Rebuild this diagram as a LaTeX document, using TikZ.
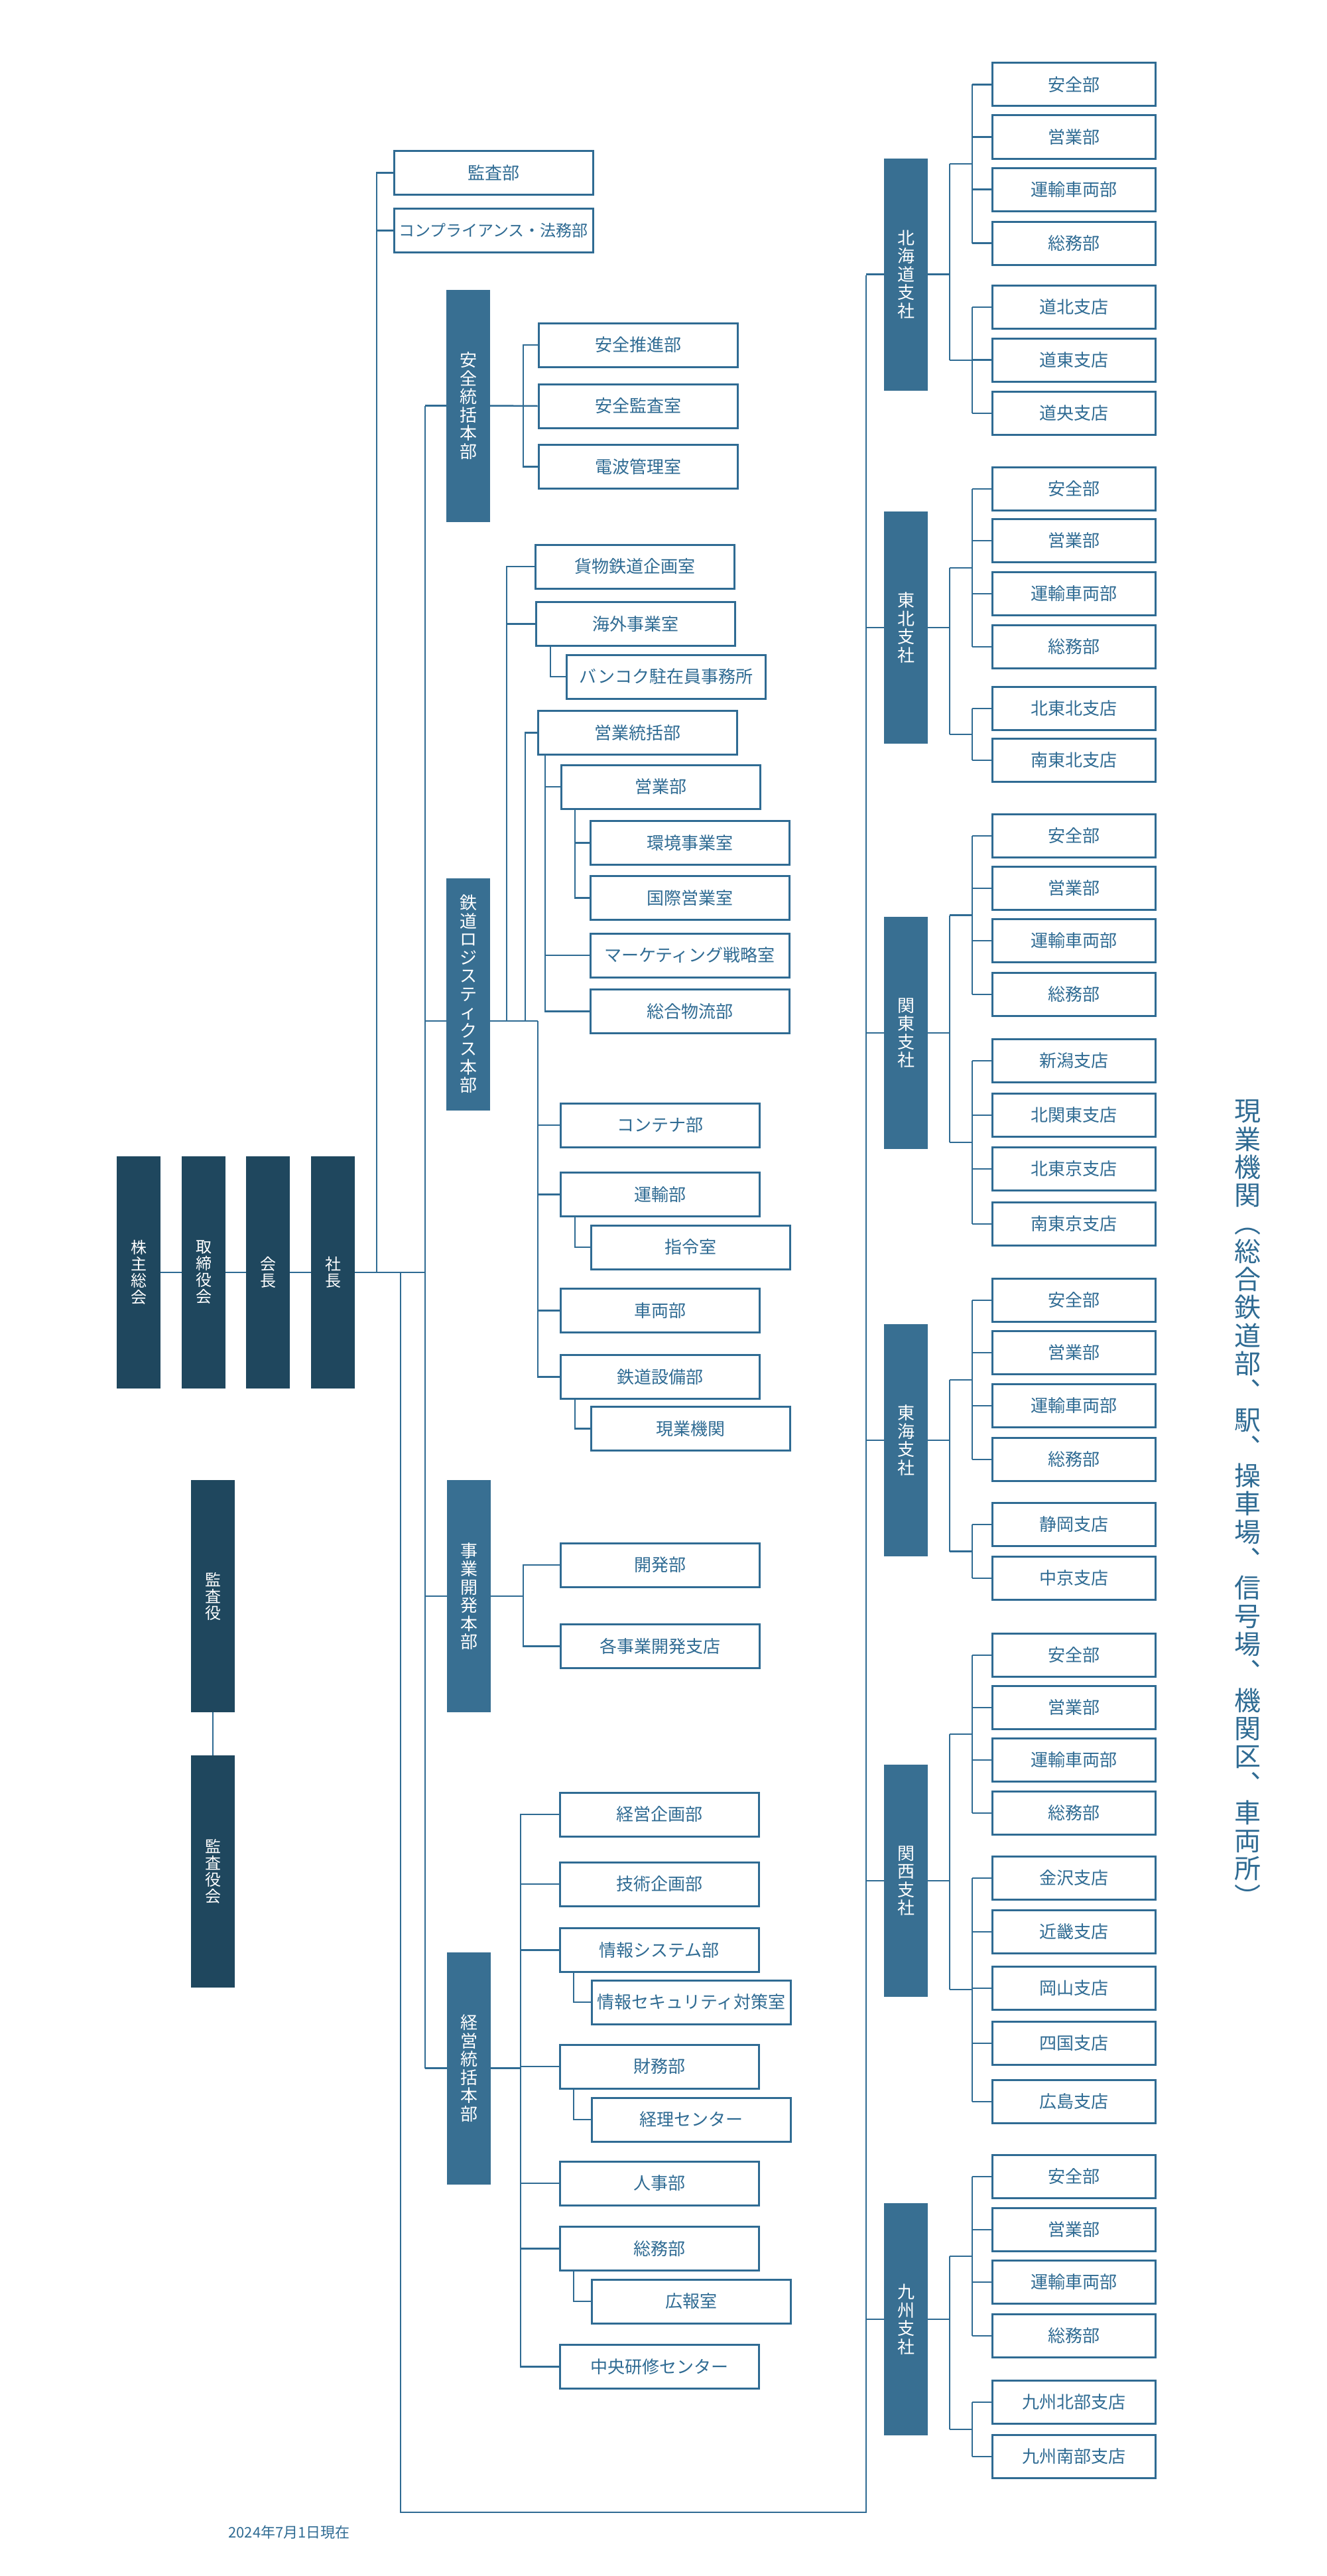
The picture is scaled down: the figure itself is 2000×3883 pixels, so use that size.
\documentclass[tikz,border=0pt]{standalone}
\usepackage{fontspec}
\setmainfont{Noto Sans CJK JP}
\definecolor{lc}{HTML}{2F6B93}
\definecolor{mid}{HTML}{386F92}
\definecolor{dk}{HTML}{1F475E}
\newcommand\fs[1]{\fontsize{#1}{#1}\selectfont}
\begin{document}
\begin{tikzpicture}[x=1pt,y=-1pt,
  ln/.style={draw=lc,line width=2.5pt},
  box/.style={draw=lc,line width=3pt,fill=white,text=lc,inner sep=0pt,font=\fs{26}},
  mb/.style={box,minimum width=300pt,minimum height=66pt},
  rb/.style={box,minimum width=246pt,minimum height=65pt},
  hqb/.style={fill=mid,text=white,inner sep=0pt,minimum width=66pt,minimum height=350pt,align=center,font=\fontsize{26}{27.5}\selectfont},
  topb/.style={fill=dk,text=white,inner sep=0pt,minimum width=66pt,minimum height=350pt,align=center,font=\fontsize{24}{25}\selectfont}]
\useasboundingbox (0,0) rectangle (2000,3883);

% top level
\node[topb] (kabu) at (209,1918) {株\\主\\総\\会};
\node[topb] (tori) at (307,1918) {取\\締\\役\\会};
\node[topb] (kaicho) at (404,1918) {会\\長};
\node[topb] (shacho) at (502,1918) {社\\長};
\node[topb] (kansayaku) at (321,2406) {監\\査\\役};
\node[topb] (kansakai) at (321,2821) {監\\査\\役\\会};
\draw[ln] (kabu) -- (tori); \draw[ln] (tori) -- (kaicho); \draw[ln] (kaicho) -- (shacho);
\draw[ln] (kansayaku) -- (kansakai);

% bus coordinates
\coordinate (j1) at (568,1918);
\coordinate (j2) at (604,1918);
\coordinate (j3) at (641,1918);
\draw[ln] (shacho.east) -- (j3);

% staff
\node[mb] (kansabu) at (744,260.5) {監査部};
\node[mb,font=\fs{24}] (compl) at (744,347.5) {コンプライアンス・法務部};
\coordinate (jtop) at (568,260.5);
\draw[ln] (j1) -- (jtop) -- (kansabu.west);
\draw[ln] (compl.west) -- (compl.west -| j1);

% HQs
\node[hqb] (anzen) at (706,611.5) {安\\全\\統\\括\\本\\部};
\node[hqb] (logi) at (706,1498.5) {鉄\\道\\ロ\\ジ\\ス\\テ\\ィ\\ク\\ス\\本\\部};
\node[hqb] (jigyo) at (707,2406) {事\\業\\開\\発\\本\\部};
\node[hqb] (keiei) at (707,3117.5) {経\\営\\統\\括\\本\\部};
\coordinate (hqtop) at (641,611.5);
\coordinate (hqbot) at (641,3117.5);
\coordinate (logiin) at (641,1539);
\draw[ln] (hqtop) -- (hqbot);
\draw[ln] (hqtop) -- (anzen.west);
\draw[ln] (logiin) -- (logiin -| logi.west);
\draw[ln] (jigyo.west) -- (jigyo.west -| hqtop);
\draw[ln] (hqbot) -- (keiei.west);

% safety HQ
\node[mb] (a1) at (962,520) {安全推進部};
\node[mb] (a2) at (962,612) {安全監査室};
\node[mb] (a3) at (962,703.5) {電波管理室};
\coordinate (ab1) at (789,520); \coordinate (ab3) at (789,703.5);
\draw[ln] (anzen.east) -- (a2.west);
\draw[ln] (a1.west) -- (ab1) -- (ab3) -- (a3.west);

% logistics HQ
\node[mb] (l1) at (957.5,854) {貨物鉄道企画室};
\node[mb] (l2) at (958,940.5) {海外事業室};
\node[mb] (l2a) at (1004.5,1020) {バンコク駐在員事務所};
\node[mb] (l3) at (961,1104.5) {営業統括部};
\node[mb] (l3a) at (996.5,1186) {営業部};
\node[mb] (l3a1) at (1040,1270.5) {環境事業室};
\node[mb] (l3a2) at (1040,1353.5) {国際営業室};
\node[mb] (l3b) at (1040,1440) {マーケティング戦略室};
\node[mb] (l3c) at (1040,1524.5) {総合物流部};
\node[mb] (l4) at (995.5,1696) {コンテナ部};
\node[mb] (l5) at (995.5,1800.5) {運輸部};
\node[mb] (l5a) at (1041.5,1880) {指令室};
\node[mb] (l6) at (995.5,1975.5) {車両部};
\node[mb] (l7) at (995.5,2075.5) {鉄道設備部};
\node[mb] (l7a) at (1041.5,2153.5) {現業機関};
\coordinate (lout) at (811,1539);
\draw[ln] (logi.east |- logiin) -- (lout);
\coordinate (lb1) at (764,854); \coordinate (lb1e) at (764,1539);
\draw[ln] (l1.west) -- (lb1) -- (lb1e);
\draw[ln] (l2.west) -- (l2.west -| lb1);
\coordinate (lb2) at (792,1104.5); \coordinate (lb2e) at (792,1539);
\draw[ln] (l3.west) -- (lb2) -- (lb2e);
\coordinate (bk) at (830,973);
\draw[ln] (bk) |- (l2a.west);
\coordinate (sb) at (822,1138);
\draw[ln] (sb) |- (l3c.west);
\draw[ln] (l3a.west) -- (l3a.west -| sb);
\draw[ln] (l3b.west) -- (l3b.west -| sb);
\coordinate (sb2) at (867,1219);
\draw[ln] (sb2) |- (l3a2.west);
\draw[ln] (l3a1.west) -- (l3a1.west -| sb2);
\draw[ln] (lout) |- (l7.west);
\draw[ln] (l4.west) -- (l4.west -| lout);
\draw[ln] (l5.west) -- (l5.west -| lout);
\draw[ln] (l6.west) -- (l6.west -| lout);
\coordinate (ub) at (867,1834); \draw[ln] (ub) |- (l5a.west);
\coordinate (tb) at (867,2109); \draw[ln] (tb) |- (l7a.west);

% business development
\node[mb] (j1b) at (995.5,2359) {開発部};
\node[mb] (j2b) at (995.5,2481.5) {各事業開発支店};
\coordinate (jb1) at (789,2359); \coordinate (jb2) at (789,2481.5);
\draw[ln] (jigyo.east) -- (jigyo.east -| jb1);
\draw[ln] (j1b.west) -- (jb1) -- (jb2) -- (j2b.west);

% management HQ
\node[mb] (k1) at (994,2735) {経営企画部};
\node[mb] (k2) at (994,2840) {技術企画部};
\node[mb] (k3) at (994,2939.5) {情報システム部};
\node[mb] (k3a) at (1042.5,3018) {情報セキュリティ対策室};
\node[mb] (k4) at (994,3115) {財務部};
\node[mb] (k4a) at (1042.5,3195) {経理センター};
\node[mb] (k5) at (994,3291) {人事部};
\node[mb] (k6) at (994,3389.5) {総務部};
\node[mb] (k6a) at (1042.5,3469) {広報室};
\node[mb] (k7) at (994,3567.5) {中央研修センター};
\coordinate (kb1) at (785,2735); \coordinate (kb7) at (785,3567.5);
\draw[ln] (k1.west) -- (kb1) -- (kb7) -- (k7.west);
\foreach \n in {k2,k3,k4,k5,k6} \draw[ln] (\n.west) -- (\n.west -| kb1);
\draw[ln] (keiei.east) -- (keiei.east -| kb1);
\foreach \n/\xx/\yy in {k3a/865/2972,k4a/865/3147,k6a/865/3422}{
  \coordinate (\n-s) at (\xx,\yy); \draw[ln] (\n-s) |- (\n.west);}

% branch offices
\coordinate (sd) at (604,3787);
\coordinate (sr) at (1306,3787);
\coordinate (stop) at (1306,415);
\draw[ln] (j2) -- (sd) -- (sr) -- (stop);

\newcommand\branch[7]{% #1 prefix, #2 hq y, #3 label, #4 g1 list, #5 g2 list, #6 g1 mid, #7 g2 mid
  \node[hqb] (#1) at (1366,#2) {#3};
  \draw[ln] (#1.west) -- (#1.west -| stop);
  \coordinate (#1m1) at (1432,#6); \coordinate (#1m2) at (1432,#7);
  \draw[ln] (#1.east) -- (1432,#2);
  \draw[ln] (#1m1) -- (#1m2);
  \draw[ln] (#1m1) -- (1466,#6);
  \draw[ln] (#1m2) -- (1466,#7);
  \foreach \yy/\tx [count=\i] in {#4}{
    \node[rb] (#1a\i) at (1619,\yy) {\tx};
    \draw[ln] (#1a\i.west) -- (1466,\yy);}
  \foreach \yy/\tx [count=\i] in {#5}{
    \node[rb] (#1b\i) at (1619,\yy) {\tx};
    \draw[ln] (#1b\i.west) -- (1466,\yy);}
}
\branch{hk}{413.5}{北\\海\\道\\支\\社}{127.5/安全部,206.5/営業部,285.5/運輸車両部,366.5/総務部}{463/道北支店,542.5/道東支店,623/道央支店}{247}{543}
\draw[ln] (1466,127.5) -- (1466,366.5); \draw[ln] (1466,463) -- (1466,623);
\branch{th}{946}{東\\北\\支\\社}{737/安全部,815/営業部,895/運輸車両部,975/総務部}{1068/北東北支店,1146/南東北支店}{856}{1107}
\draw[ln] (1466,737) -- (1466,975); \draw[ln] (1466,1068) -- (1466,1146);
\branch{kt}{1557}{関\\東\\支\\社}{1260/安全部,1339/営業部,1418/運輸車両部,1499/総務部}{1599/新潟支店,1681/北関東支店,1762/北東京支店,1845/南東京支店}{1379.5}{1722}
\draw[ln] (1466,1260) -- (1466,1499); \draw[ln] (1466,1599) -- (1466,1845);
\branch{tk}{2171}{東\\海\\支\\社}{1960/安全部,2039/営業部,2119/運輸車両部,2200/総務部}{2298/静岡支店,2379/中京支店}{2080}{2338.5}
\draw[ln] (1466,1960) -- (1466,2200); \draw[ln] (1466,2298) -- (1466,2379);
\branch{ks}{2835}{関\\西\\支\\社}{2495/安全部,2574/営業部,2653/運輸車両部,2733/総務部}{2831/金沢支店,2912/近畿支店,2997/岡山支店,3080/四国支店,3168/広島支店}{2614}{2999}
\draw[ln] (1466,2495) -- (1466,2733); \draw[ln] (1466,2831) -- (1466,3168);
\branch{ky}{3496}{九\\州\\支\\社}{3281/安全部,3361/営業部,3440/運輸車両部,3521/総務部}{3621/九州北部支店,3703/九州南部支店}{3401}{3662}
\draw[ln] (1466,3281) -- (1466,3521); \draw[ln] (1466,3621) -- (1466,3703);

% vertical caption
\node[text=lc,align=center,inner sep=0pt,font=\fontsize{40}{42.3}\selectfont] (cap) at (1881,2266)
 {現\\業\\機\\関\\︵\\総\\合\\鉄\\道\\部\\︑\\駅\\︑\\操\\車\\場\\︑\\信\\号\\場\\︑\\機\\関\\区\\︑\\車\\両\\所\\︶};

\node[text=lc,inner sep=0pt,font=\fs{22}] (date) at (436,3817) {2024年7月1日現在};
\end{tikzpicture}
\end{document}
